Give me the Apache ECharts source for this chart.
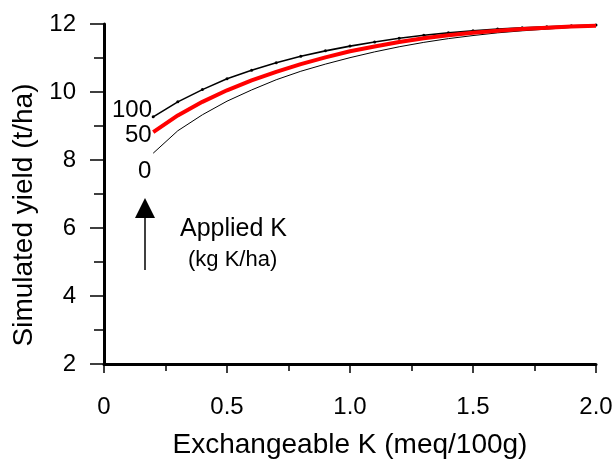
<!DOCTYPE html>
<html>
<head>
<meta charset="utf-8">
<script src="https://cdn.jsdelivr.net/npm/echarts@6/dist/echarts.min.js"></script>
<style>
  html, body { margin: 0; padding: 0; background: #fff; }
  #chart { width: 616px; height: 459px; }
</style>
</head>
<body>
<div id="chart"></div>
<script>
// exchangeable K (meq/100g)
var exchK = [0.2, 0.3, 0.4, 0.5, 0.6, 0.7, 0.8, 0.9, 1.0, 1.1, 1.2, 1.3, 1.4, 1.5, 1.6, 1.7, 1.8, 1.9, 2.0];
// simulated yield (t/ha) for each applied K rate
var yield100 = [9.27, 9.71, 10.07, 10.39, 10.64, 10.86, 11.05, 11.21, 11.35, 11.47, 11.58, 11.67, 11.74, 11.80, 11.85, 11.89, 11.92, 11.95, 11.97];
var yield50 = [8.82, 9.31, 9.71, 10.05, 10.34, 10.59, 10.82, 11.02, 11.20, 11.34, 11.47, 11.58, 11.67, 11.74, 11.80, 11.85, 11.89, 11.93, 11.95];
var yield0 = [8.20, 8.86, 9.33, 9.73, 10.06, 10.36, 10.61, 10.82, 11.01, 11.18, 11.33, 11.46, 11.57, 11.66, 11.74, 11.80, 11.85, 11.90, 11.93];
var rateLabels = ['100', '50', '0'];

var FONT = '"Liberation Sans", Arial, sans-serif';

function pairs(ys) {
  return exchK.map(function (x, i) { return [x, ys[i]]; });
}

var chart = echarts.init(document.getElementById('chart'), null, { renderer: 'canvas' });

var option = {
  animation: false,
  backgroundColor: '#fff',
  // keep the plot box fixed even though the x name touches the bottom edge
  grid: { left: 104, right: 20, top: 24, bottom: 95, outerBoundsMode: 'none' },
  xAxis: {
    type: 'value',
    min: 0,
    max: 2,
    interval: 0.5,
    name: 'Exchangeable K (meq/100g)',
    nameLocation: 'middle',
    nameGap: 67,
    nameTextStyle: { color: '#000', fontSize: 28, fontFamily: FONT },
    axisLine: { show: true, lineStyle: { color: '#000', width: 3 } },
    axisTick: { show: true, inside: false, length: 9, lineStyle: { color: '#000', width: 1.5 } },
    minorTick: { show: true, splitNumber: 2, length: 7, lineStyle: { color: '#000', width: 1.5 } },
    splitLine: { show: false },
    axisLabel: {
      color: '#000', fontSize: 24, fontFamily: FONT, margin: 31,
      formatter: function (v) { return v === 0 ? '0' : v.toFixed(1); }
    }
  },
  yAxis: {
    type: 'value',
    min: 2,
    max: 12,
    interval: 2,
    name: 'Simulated yield (t/ha)',
    nameLocation: 'middle',
    nameGap: 66,
    // extra padding at the text end pushes the centred name downwards
    nameTextStyle: { color: '#000', fontSize: 28, fontFamily: FONT, padding: [0, 42, 0, 0] },
    axisLine: { show: true, lineStyle: { color: '#000', width: 3 } },
    axisTick: { show: true, inside: false, length: 14, lineStyle: { color: '#000', width: 1.5 } },
    minorTick: { show: true, splitNumber: 2, length: 10, lineStyle: { color: '#000', width: 1.5 } },
    splitLine: { show: false },
    axisLabel: { color: '#000', fontSize: 24, fontFamily: FONT, margin: 28 }
  },
  series: [
    {
      name: rateLabels[2],
      type: 'line',
      data: pairs(yield0),
      showSymbol: false,
      lineStyle: { color: '#000', width: 1 },
      z: 2
    },
    {
      name: rateLabels[0],
      type: 'line',
      data: pairs(yield100),
      symbol: 'circle',
      symbolSize: 3,
      itemStyle: { color: '#000' },
      lineStyle: { color: '#000', width: 1.6 },
      z: 3
    },
    {
      name: rateLabels[1],
      type: 'line',
      data: pairs(yield50),
      showSymbol: false,
      lineStyle: { color: '#ff0000', width: 4 },
      z: 4
    }
  ],
  graphic: [
    { type: 'text', left: 112, top: 98, style: { text: rateLabels[0], fill: '#000', font: '24px ' + FONT } },
    { type: 'text', left: 125, top: 123, style: { text: rateLabels[1], fill: '#000', font: '24px ' + FONT } },
    { type: 'text', left: 138, top: 159, style: { text: rateLabels[2], fill: '#000', font: '24px ' + FONT } },
    { type: 'line', shape: { x1: 145, y1: 270, x2: 145, y2: 214 }, style: { stroke: '#000', lineWidth: 1.5 } },
    { type: 'polygon', shape: { points: [[145, 198], [135, 218], [155, 218]] }, style: { fill: '#000' } },
    { type: 'text', left: 180, top: 217, style: { text: 'Applied K', fill: '#000', font: '25px ' + FONT } },
    { type: 'text', left: 188, top: 249, style: { text: '(kg K/ha)', fill: '#000', font: '22px ' + FONT } }
  ]
};

chart.setOption(option);
</script>
</body>
</html>
